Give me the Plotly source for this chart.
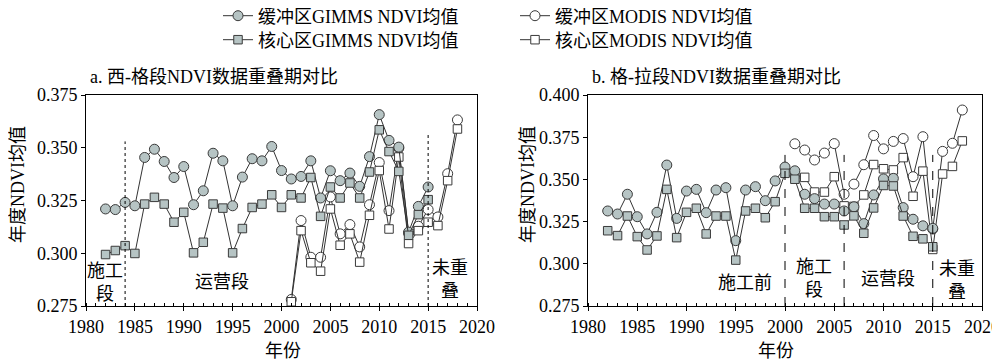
import plotly.graph_objects as go

# ---------------- data ----------------
gimms_years = list(range(1982, 2016))
modis_years = list(range(2001, 2019))

# panel a (西-格段)
a_buf_gimms = [0.3210, 0.3207, 0.3241, 0.3225, 0.3454, 0.3493, 0.3435, 0.3359, 0.3411, 0.3230,
               0.3296, 0.3474, 0.3438, 0.3225, 0.3361, 0.3448, 0.3438, 0.3506, 0.3392, 0.3352,
               0.3364, 0.3438, 0.3262, 0.3391, 0.3344, 0.3380, 0.3317, 0.3458, 0.3657, 0.3535,
               0.3503, 0.3100, 0.3222, 0.3314]
a_core_gimms = [0.2994, 0.3013, 0.3036, 0.2999, 0.3233, 0.3265, 0.3233, 0.3147, 0.3194, 0.3002,
                0.3052, 0.3233, 0.3214, 0.3002, 0.3117, 0.3217, 0.3233, 0.3277, 0.3217, 0.3277,
                0.3262, 0.3359, 0.3175, 0.3314, 0.3262, 0.3333, 0.3262, 0.3385, 0.3585, 0.3482,
                0.3388, 0.3085, 0.3183, 0.3254]
a_buf_modis = [0.2781, 0.3155, 0.2981, 0.2981, 0.3267, 0.3092, 0.3136, 0.3030, 0.3230, 0.3430,
               0.3202, 0.3498, 0.3095, 0.3128, 0.3207, 0.3172, 0.3377, 0.3632]
a_core_modis = [0.2770, 0.3107, 0.2955, 0.2915, 0.3210, 0.3038, 0.3092, 0.2958, 0.3180, 0.3392,
                0.3115, 0.3456, 0.3046, 0.3107, 0.3147, 0.3131, 0.3344, 0.3589]

# panel b (格-拉段)
b_buf_gimms = [0.3313, 0.3295, 0.3412, 0.3279, 0.3177, 0.3305, 0.3585, 0.3269, 0.3431, 0.3441,
               0.3303, 0.3437, 0.3451, 0.3137, 0.3437, 0.3457, 0.3374, 0.3491, 0.3573, 0.3551,
               0.3412, 0.3386, 0.3354, 0.3354, 0.3313, 0.3338, 0.3238, 0.3408, 0.3503, 0.3506,
               0.3333, 0.3264, 0.3225, 0.3210]
b_core_gimms = [0.3196, 0.3167, 0.3283, 0.3161, 0.3082, 0.3165, 0.3441, 0.3155, 0.3305, 0.3329,
                0.3177, 0.3283, 0.3283, 0.3022, 0.3313, 0.3329, 0.3273, 0.3368, 0.3536, 0.3501,
                0.3329, 0.3329, 0.3279, 0.3279, 0.3230, 0.3284, 0.3181, 0.3331, 0.3464, 0.3461,
                0.3283, 0.3163, 0.3148, 0.3101]
b_buf_modis = [0.3711, 0.3674, 0.3615, 0.3656, 0.3712, 0.3412, 0.3472, 0.3587, 0.3760, 0.3681,
               0.3725, 0.3742, 0.3516, 0.3753, 0.3206, 0.3666, 0.3714, 0.3911]
b_core_modis = [0.3525, 0.3512, 0.3425, 0.3425, 0.3516, 0.3343, 0.3340, 0.3408, 0.3588, 0.3563,
                0.3556, 0.3629, 0.3400, 0.3549, 0.3085, 0.3532, 0.3577, 0.3728]

names = ["缓冲区GIMMS NDVI均值", "核心区GIMMS NDVI均值", "缓冲区MODIS NDVI均值", "核心区MODIS NDVI均值"]
x_ticks = [1980, 1985, 1990, 1995, 2000, 2005, 2010, 2015, 2020]
a_yticks = [0.275, 0.300, 0.325, 0.350, 0.375]
b_yticks = [0.275, 0.300, 0.325, 0.350, 0.375, 0.400]

# ---------------- geometry (screen pixels; page body has an 8px margin) ----------------
OFF = 8
W, H = 1000 - OFF, 363 - OFF
def px(xp):
    return (xp - OFF) / W
def py(yp):
    return 1 - (yp - OFF) / H

# ---------------- style ----------------
FONT = "Liberation Serif, Times New Roman, Noto Sans CJK SC, serif"
FILL = "#b6c4c4"
EDGE = "#3a3a3a"
LINE = "#333333"

styles = [
    dict(symbol="circle", size=10, color=FILL),
    dict(symbol="square", size=8.5, color=FILL),
    dict(symbol="circle", size=10, color="white"),
    dict(symbol="square", size=8.5, color="white"),
]
legend_ids = ["legend", "legend2", "legend3", "legend4"]
# legend placement: (left x, centre y) in screen px
legend_pos = [(218, 16), (218, 40), (515, 16), (515, 40)]

fig = go.Figure()

panels = [
    ("x", "y", [a_buf_gimms, a_core_gimms, a_buf_modis, a_core_modis], True),
    ("x2", "y2", [b_buf_gimms, b_core_gimms, b_buf_modis, b_core_modis], False),
]
order = [2, 3, 0, 1]  # draw MODIS first, GIMMS on top
for xa, ya, series, show in panels:
    for i in order:
        yrs = gimms_years if i < 2 else modis_years
        st = styles[i]
        fig.add_trace(go.Scatter(
            x=yrs, y=series[i], mode="lines+markers", name=names[i],
            xaxis=xa, yaxis=ya, legend=legend_ids[i], showlegend=show,
            line=dict(color=LINE, width=1),
            marker=dict(symbol=st["symbol"], size=st["size"], color=st["color"],
                        line=dict(color=EDGE, width=1)),
        ))

axis_common = dict(
    showline=True, linecolor="black", linewidth=1, mirror=True,
    showgrid=False, zeroline=False, automargin=False,
    tickfont=dict(family=FONT, size=18, color="black"),
    ticks="outside", ticklen=4, tickcolor="black",
)
xcommon = dict(axis_common, range=[1980, 2020], tickvals=x_ticks,
               minor=dict(dtick=1, tick0=1980, ticks="inside", ticklen=3, tickcolor="black"))

layout_legends = {}
for lid, (lx, ly) in zip(legend_ids, legend_pos):
    layout_legends[lid] = dict(x=px(lx), y=py(ly), xanchor="left", yanchor="middle",
                               font=dict(family=FONT, size=18), bgcolor="rgba(0,0,0,0)",
                               itemwidth=30)

fig.update_layout(
    template="none",
    width=W, height=H,
    margin=dict(l=0, r=0, t=0, b=0, pad=0, autoexpand=False),
    paper_bgcolor="white", plot_bgcolor="white",
    font=dict(family=FONT, size=18, color="black"),
    xaxis=dict(xcommon, domain=[px(86), px(477)], anchor="y"),
    yaxis=dict(axis_common, domain=[py(306), py(95)], range=[0.275, 0.375],
               tickvals=a_yticks, tickformat=".3f", anchor="x"),
    xaxis2=dict(xcommon, domain=[px(588), px(982)], anchor="y2"),
    yaxis2=dict(axis_common, domain=[py(306), py(95)], range=[0.275, 0.400],
                tickvals=b_yticks, tickformat=".3f", anchor="x2"),
    **layout_legends,
)

# period separators
def vline(xref, yref, x, y1, dash):
    fig.add_shape(type="line", xref=xref, yref=yref, x0=x, x1=x, y0=0.275, y1=y1,
                  line=dict(color="black", width=1, dash=dash))

vline("x", "y", 1984, 0.353, "dot")
vline("x", "y", 2015, 0.357, "dot")
vline("x2", "y2", 2000, 0.3645, "dash")
vline("x2", "y2", 2006, 0.3645, "dash")
vline("x2", "y2", 2015, 0.3645, "dash")

def note(text, x, y, xref, yref):
    fig.add_annotation(text=text, x=x, y=y, xref=xref, yref=yref, showarrow=False,
                       font=dict(family=FONT, size=18, color="black"), align="center")

note("施工<br>段", 1981.9, 0.2861, "x", "y")
note("运营段", 1993.9, 0.2866, "x", "y")
note("未重<br>叠", 2017.2, 0.2876, "x", "y")
note("施工前", 1995.9, 0.2886, "x2", "y2")
note("施工<br>段", 2002.95, 0.2910, "x2", "y2")
note("运营段", 2010.5, 0.2910, "x2", "y2")
note("未重<br>叠", 2017.5, 0.2904, "x2", "y2")

# titles
for txt, xl in [("a. 西-格段NDVI数据重叠期对比", 88), ("b. 格-拉段NDVI数据重叠期对比", 590)]:
    fig.add_annotation(text=txt, x=px(xl), y=py(77), xref="paper", yref="paper",
                       xanchor="left", yanchor="middle", showarrow=False,
                       font=dict(family=FONT, size=18, color="black"))
for xc in [18, 528]:
    fig.add_annotation(text="年度NDVI均值", x=px(xc), y=py(185), xref="paper", yref="paper",
                       textangle=-90, showarrow=False, xanchor="center", yanchor="middle",
                       font=dict(family=FONT, size=18, color="black"))
for xc in [283, 776]:
    fig.add_annotation(text="年份", x=px(xc), y=py(351), xref="paper", yref="paper",
                       showarrow=False, xanchor="center", yanchor="middle",
                       font=dict(family=FONT, size=18, color="black"))

fig.write_html("out.html")
